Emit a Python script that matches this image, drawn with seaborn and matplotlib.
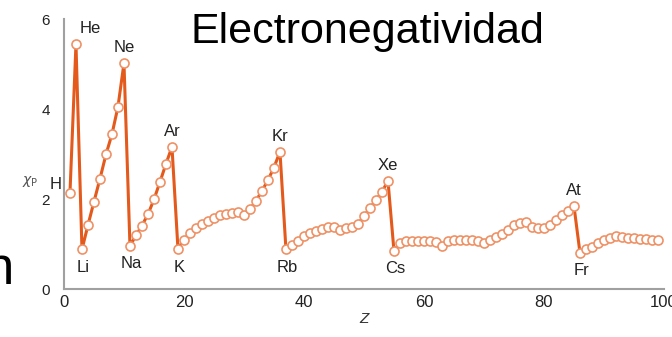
import numpy as np
import pandas as pd
import seaborn as sns
from matplotlib import pyplot as plt

# datos: numero atomico y electronegatividad
z_vals = list(range(1, 100))
chi_vals = [2.14, 5.44, 0.88, 1.42, 1.94, 2.45, 2.99, 3.44, 4.05, 5.02,
            0.96, 1.19, 1.41, 1.66, 1.99, 2.38, 2.78, 3.16,
            0.89, 1.10, 1.24, 1.35, 1.45, 1.52, 1.57, 1.64, 1.66, 1.70,
            1.72, 1.64, 1.77, 1.96, 2.18, 2.42, 2.70, 3.05,
            0.88, 0.98, 1.07, 1.17, 1.25, 1.30, 1.33, 1.37, 1.38, 1.31,
            1.36, 1.38, 1.44, 1.62, 1.79, 1.98, 2.15, 2.41,
            0.85, 1.02, 1.06, 1.07, 1.07, 1.07, 1.07, 1.05, 0.95, 1.07,
            1.08, 1.08, 1.08, 1.08, 1.07, 1.02, 1.08, 1.15, 1.23, 1.32,
            1.42, 1.47, 1.48, 1.38, 1.35, 1.35, 1.42, 1.53, 1.64, 1.73, 1.85,
            0.81, 0.89, 0.93, 1.03, 1.08, 1.14, 1.17, 1.15, 1.14, 1.13,
            1.12, 1.11, 1.10, 1.09]

top_labels = ['He', 'Ne', 'Ar', 'Kr', 'Xe', 'At']
top_z = [2, 10, 18, 36, 54, 85]
bottom_labels = ['Li', 'Na', 'K', 'Rb', 'Cs', 'Fr']
bottom_z = [3, 11, 19, 37, 55, 86]

x_ticks = [0, 20, 40, 60, 80, 100]
y_ticks = [0, 2, 4, 6]

df = pd.DataFrame({'Z': z_vals, 'chi': chi_vals})

sns.set_style('white')
plt.rcParams['font.family'] = ['Liberation Sans', 'DejaVu Sans']

fig = plt.figure(figsize=(6.72, 3.37), dpi=100)
ax = fig.add_axes([0.0952, 0.1424, 0.8928, 0.8012])

sns.lineplot(data=df, x='Z', y='chi', ax=ax, estimator=None, sort=False,
             color='#E35A1C', linewidth=2.2, marker='o', markersize=6.5,
             markerfacecolor='white', markeredgecolor='#EE9266',
             markeredgewidth=1.2)

ax.set_xlim(0, 100)
ax.set_ylim(0, 6)
ax.set_xticks(x_ticks)
ax.set_yticks(y_ticks)
ax.tick_params(axis='x', direction='in', length=6, width=1.2, color='#999999',
               labelsize=12, pad=4, labelcolor='#222222')
ax.tick_params(axis='y', direction='in', length=6, width=1.2, color='#F2A07A',
               labelsize=11, pad=10, labelcolor='#222222')
for s in ['top', 'right']:
    ax.spines[s].set_visible(False)
for s in ['left', 'bottom']:
    ax.spines[s].set_color('#A0A0A0')
    ax.spines[s].set_linewidth(1.5)

ax.set_xlabel('Z', fontstyle='italic', fontsize=11, color='#333333', labelpad=2)
ax.set_ylabel('')
fig.text(0.045, 0.46, r'$\chi_\mathrm{P}$', fontsize=10, color='#555555',
         ha='center', va='center')

chi_map = dict(zip(z_vals, chi_vals))
for name, z in zip(top_labels, top_z):
    dx = 10 if name == 'He' else 0
    ax.annotate(name, (z, chi_map[z]), xytext=(dx, 11), textcoords='offset points',
                ha='center', va='center', fontsize=12, color='#222222')
for name, z in zip(bottom_labels, bottom_z):
    ax.annotate(name, (z, chi_map[z]), xytext=(1, -13), textcoords='offset points',
                ha='center', va='center', fontsize=12, color='#222222')
ax.annotate('H', (1, chi_map[1]), xytext=(-10, 6), textcoords='offset points',
            ha='center', va='center', fontsize=12, color='#222222')

fig.text(0.547, 0.905, 'Electronegatividad', fontsize=31, color='black',
         ha='center', va='center')
fig.text(0.02, 0.20, 'n', fontsize=38, color='black', ha='right', va='center')

fig.savefig('out.png', dpi=100)
